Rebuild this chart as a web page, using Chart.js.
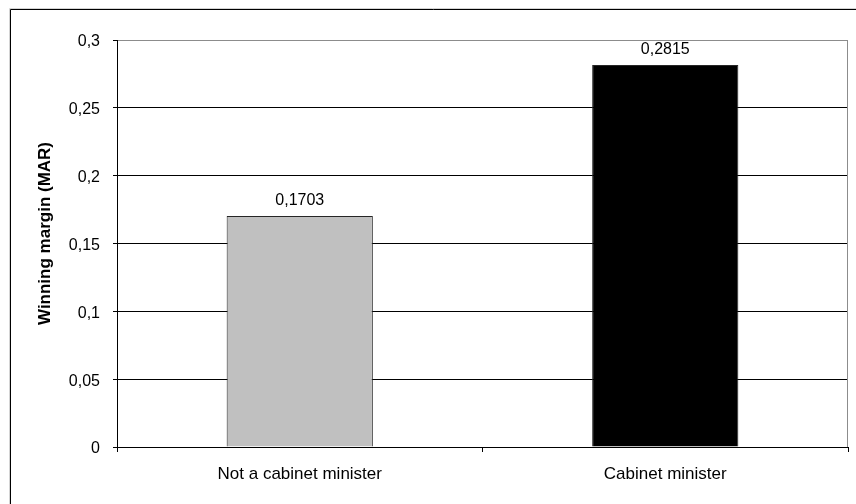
<!DOCTYPE html>
<html>
<head>
<meta charset="utf-8">
<script src="https://cdn.jsdelivr.net/npm/chart.js@4/dist/chart.umd.min.js"></script>
<style>
  html, body { margin: 0; padding: 0; background: #fff; overflow: hidden; }
  canvas { display: block; }
</style>
</head>
<body>
<canvas id="c" width="856" height="504"></canvas>
<script>
const categories = ['Not a cabinet minister', 'Cabinet minister'];
const marginValues = [0.1703, 0.2815];
const barColours = ['#c0c0c0', '#000000'];
const yTickLabels = ['0', '0,05', '0,1', '0,15', '0,2', '0,25', '0,3'];
const yAxisTitle = 'Winning margin (MAR)';

const FONT = "'Liberation Sans', Arial, sans-serif";
const commaDecimal = v => String(v).replace('.', ',');

// Outer frame of the figure and the grey border round the plot area
const frame = {
  id: 'frame',
  beforeDraw(chart) {
    const ctx = chart.ctx;
    ctx.save();
    ctx.fillStyle = '#fff';
    ctx.fillRect(0, 0, chart.width, chart.height);
    ctx.strokeStyle = '#d4d4d4';
    ctx.lineWidth = 1;
    ctx.beginPath();
    ctx.moveTo(9.5, chart.height); ctx.lineTo(9.5, 8.5); ctx.lineTo(chart.width, 8.5);
    ctx.stroke();
    ctx.strokeStyle = '#000';
    ctx.beginPath();
    ctx.moveTo(10.5, chart.height); ctx.lineTo(10.5, 9.5); ctx.lineTo(chart.width, 9.5);
    ctx.stroke();
    ctx.restore();
  },
  beforeDatasetsDraw(chart) {
    const { ctx, chartArea: a } = chart;
    ctx.save();
    ctx.strokeStyle = '#8c8c8c';
    ctx.lineWidth = 1;
    ctx.beginPath();
    ctx.moveTo(Math.round(a.right) - 0.5, a.top);
    ctx.lineTo(Math.round(a.right) - 0.5, a.bottom);
    ctx.stroke();
    ctx.restore();
  }
};

// Value printed above each bar, and the rotated y-axis title
const valueLabels = {
  id: 'valueLabels',
  afterDatasetsDraw(chart) {
    const ctx = chart.ctx;
    const meta = chart.getDatasetMeta(0);
    ctx.save();
    ctx.font = '16px ' + FONT;
    ctx.fillStyle = '#000';
    ctx.textAlign = 'center';
    ctx.textBaseline = 'alphabetic';
    meta.data.forEach((bar, i) => {
      ctx.fillText(commaDecimal(marginValues[i]), bar.x, bar.y - 11);
    });

    const a = chart.chartArea;
    ctx.translate(45, (a.top + a.bottom) / 2 - 10);
    ctx.rotate(-Math.PI / 2);
    ctx.font = 'bold 17px ' + FONT;
    ctx.textBaseline = 'middle';
    ctx.fillText(yAxisTitle, 0, 0);
    ctx.restore();
  }
};

new Chart(document.getElementById('c'), {
  type: 'bar',
  data: {
    labels: categories,
    datasets: [{
      data: marginValues,
      backgroundColor: barColours,
      borderColor: '#262626',
      borderWidth: 1,
      categoryPercentage: 0.8,
      barPercentage: 0.5
    }]
  },
  options: {
    responsive: false,
    animation: false,
    events: [],
    layout: { padding: { left: 0, top: 40, right: 8, bottom: 0 } },
    plugins: { legend: { display: false }, tooltip: { enabled: false } },
    scales: {
      x: {
        grid: { offset: true, drawOnChartArea: false, tickLength: 5, tickColor: '#000', color: '#000' },
        border: { color: '#000' },
        ticks: { color: '#000', font: { family: FONT, size: 17 }, padding: 12, maxRotation: 0 },
        afterFit(s) { s.height = 57; }
      },
      y: {
        min: 0,
        max: 0.3,
        ticks: {
          stepSize: 0.05,
          color: '#000',
          font: { family: FONT, size: 16 },
          padding: 13,
          labelOffset: 2,
          callback: (v, i) => yTickLabels[i]
        },
        grid: {
          color: c => (c.tick && c.tick.value > 0.299) ? '#8c8c8c' : '#000',
          tickLength: 4,
          tickColor: '#000'
        },
        border: { color: '#000' },
        afterFit(s) { s.width = 117; }
      }
    }
  },
  plugins: [frame, valueLabels]
});
</script>
</body>
</html>
